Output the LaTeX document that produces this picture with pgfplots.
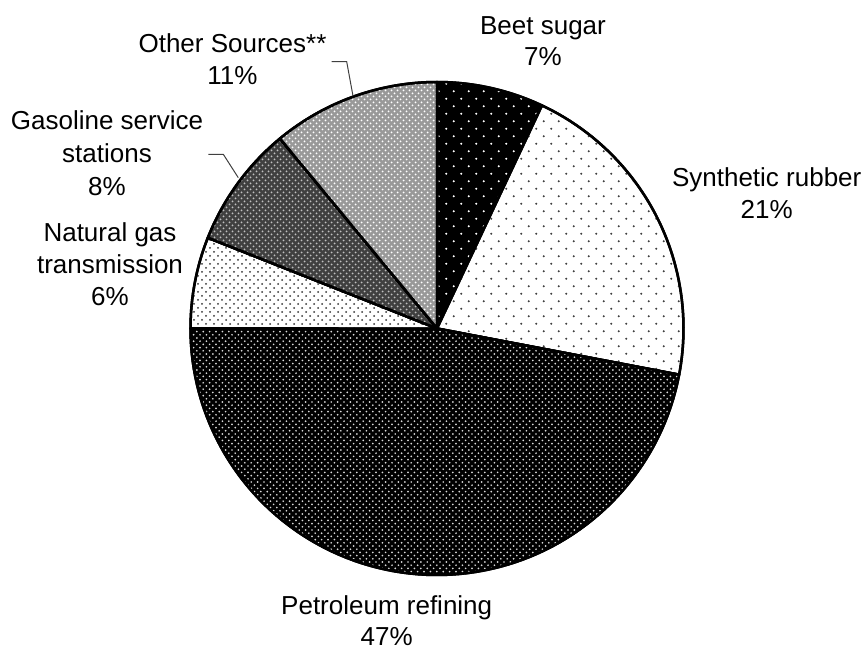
\documentclass[border=0pt]{standalone}
\usepackage{fontspec}
\setmainfont{Liberation Sans}
\usepackage{pgfplots}
\pgfplotsset{compat=1.18}
\usepackage{pgfplotstable}
\usetikzlibrary{patterns}

% staggered dot lattices
\pgfdeclarepatternformonly{dotsWide}{\pgfpoint{-1pt}{-1pt}}{\pgfpoint{16pt}{16pt}}{\pgfpoint{15pt}{15pt}}{%
  \pgfpathcircle{\pgfpoint{3.75pt}{3.75pt}}{1.1pt}%
  \pgfpathcircle{\pgfpoint{11.25pt}{11.25pt}}{1.1pt}%
  \pgfusepath{fill}}
\pgfdeclarepatternformonly{dotsMid}{\pgfpoint{-1pt}{-1pt}}{\pgfpoint{9pt}{9pt}}{\pgfpoint{8pt}{8pt}}{%
  \pgfpathcircle{\pgfpoint{2pt}{2pt}}{1.0pt}%
  \pgfpathcircle{\pgfpoint{6pt}{6pt}}{1.0pt}%
  \pgfusepath{fill}}
\pgfdeclarepatternformonly{dotsDense}{\pgfpoint{-1pt}{-1pt}}{\pgfpoint{7.4pt}{7.4pt}}{\pgfpoint{6.4pt}{6.4pt}}{%
  \pgfpathcircle{\pgfpoint{1.6pt}{1.6pt}}{0.95pt}%
  \pgfpathcircle{\pgfpoint{4.8pt}{4.8pt}}{0.95pt}%
  \pgfusepath{fill}}
\pgfdeclarepatternformonly{crossDots}{\pgfpoint{-1pt}{-1pt}}{\pgfpoint{7pt}{7pt}}{\pgfpoint{6pt}{6pt}}{%
  \pgfpathcircle{\pgfpoint{1.5pt}{1.5pt}}{1.0pt}%
  \pgfpathcircle{\pgfpoint{4.5pt}{4.5pt}}{1.0pt}%
  \pgfusepath{fill}}

% shares (percent), clockwise from 12 o'clock
\pgfplotstableread{
label pct
Beet 7
Synth 21
Petro 47
Nat 6
Gas 8
Other 11
}\piedata

\def\cx{437}
\def\cy{328.5}
\def\rr{246.5}

\newcommand{\getpct}[2]{\pgfplotstablegetelem{#1}{pct}\of\piedata\edef#2{\pgfplotsretval}}
\getpct{0}{\pA}\getpct{1}{\pB}\getpct{2}{\pC}\getpct{3}{\pD}\getpct{4}{\pE}\getpct{5}{\pF}
\pgfmathsetmacro{\aA}{90}
\pgfmathsetmacro{\aB}{\aA-3.6*\pA}
\pgfmathsetmacro{\aC}{\aB-3.6*\pB}
\pgfmathsetmacro{\aD}{\aC-3.6*\pC}
\pgfmathsetmacro{\aE}{\aD-3.6*\pD}
\pgfmathsetmacro{\aF}{\aE-3.6*\pE}
\pgfmathsetmacro{\aG}{\aF-3.6*\pF}

\newcommand{\slice}[3]{%
  \addplot[draw=black, line width=2.5pt, line join=round, #3, domain=#2:#1, samples=90]
    ({\cx+\rr*cos(x)}, {\cy-\rr*sin(x)}) -- (axis cs:\cx,\cy) -- cycle;}

\begin{document}
\begin{tikzpicture}
\useasboundingbox (0,0) rectangle (866pt,650pt);
\begin{axis}[
  at={(0,0)}, anchor=south west,
  scale only axis, width=866pt, height=650pt,
  xmin=0, xmax=866, ymin=0, ymax=650, y dir=reverse,
  hide axis, clip=false,
]
\slice{\aA}{\aB}{preaction={fill=black}, pattern=dotsWide, pattern color=white}
\slice{\aB}{\aC}{preaction={fill=white}, pattern=dotsWide, pattern color=black!75}
\slice{\aC}{\aD}{preaction={fill=black}, pattern=dotsDense, pattern color=white!85!black}
\slice{\aD}{\aE}{preaction={fill=white}, pattern=dotsMid, pattern color=black!80}
\slice{\aE}{\aF}{preaction={fill=black!75}, pattern=crossDots, pattern color=white!75!black}
\slice{\aF}{\aG}{preaction={fill=black!40}, pattern=crossDots, pattern color=white}

% leader lines
\addplot[black!75, line width=1pt, no marks] coordinates {(331.7,61.7) (346.7,61.7) (353,96)};
\addplot[black!75, line width=1pt, no marks] coordinates {(208.3,154.3) (223.3,154.3) (238.3,177.7)};

\tikzset{lab/.style={anchor=base, inner sep=0pt, font=\fontsize{26}{32}\selectfont}}
\node[lab] at (axis cs:543,34.3) {Beet sugar};
\node[lab] at (axis cs:543,65.7) {7\%};
\node[lab] at (axis cs:766.7,186.7) {Synthetic rubber};
\node[lab] at (axis cs:766.7,218.3) {21\%};
\node[lab] at (axis cs:386.7,614) {Petroleum refining};
\node[lab] at (axis cs:386.7,645.5) {47\%};
\node[lab] at (axis cs:110,241.7) {Natural gas};
\node[lab] at (axis cs:110,273) {transmission};
\node[lab] at (axis cs:110,305) {6\%};
\node[lab] at (axis cs:107,130) {Gasoline service};
\node[lab] at (axis cs:107,163) {stations};
\node[lab] at (axis cs:107,195) {8\%};
\node[lab] at (axis cs:232.5,53) {Other Sources**};
\node[lab] at (axis cs:232.5,85) {11\%};
\end{axis}
\end{tikzpicture}
\end{document}
